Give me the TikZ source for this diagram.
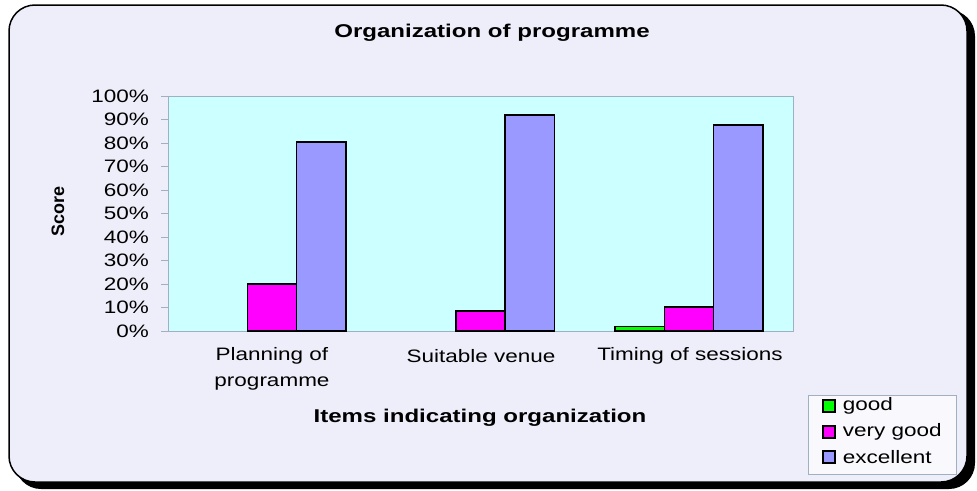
\documentclass[tikz,border=0pt]{standalone}
\usepackage{fontspec}
\setmainfont{Liberation Sans}
\newfontfamily\chartfont[FakeStretch=1.25]{Liberation Sans}
\newfontfamily\headfont[FakeStretch=1.3]{Liberation Sans}
\usepackage{tikz}
\usetikzlibrary{calc}

\definecolor{panel}{RGB}{238,238,250}
\definecolor{plotbg}{RGB}{204,255,255}
\definecolor{plotline}{RGB}{160,176,192}
\definecolor{goodc}{RGB}{0,255,0}
\definecolor{vgoodc}{RGB}{255,0,255}
\definecolor{excc}{RGB}{153,153,255}

\begin{document}
\begin{tikzpicture}[x=1pt,y=-1pt,
    labl/.style={font=\chartfont\fontsize{18}{26}\selectfont, inner sep=0pt},
    head/.style={font=\headfont\bfseries\fontsize{18.5}{22}\selectfont, inner sep=0pt},
    bar/.style={draw=black, line width=1.6pt}]
  \useasboundingbox (0,0) rectangle (977,490);

  %% Frame with its dark shadow
  \fill[black, rounded corners=26] (15,10) rectangle (975,489);
  \draw[fill=panel, line width=1.5pt, rounded corners=26] (9,5) rectangle (967,482);

  %% Plot area and the score axis
  \draw[plotline, fill=plotbg] (168,96) rectangle (793,331);
  \foreach \p in {0,10,...,100}
  {
    \coordinate (T\p) at (168,331-2.35*\p);
    \draw[plotline] (T\p) -- ++(-7,0);
    \node[labl, anchor=east] (Y\p) at ($(T\p)+(-19,0)$) {\p\%};
  }

  %% Bars: group centre / position in group / value / colour
  \foreach \c/\k/\v/\col in {272/1/20/vgoodc, 272/2/80.4/excc,
                             480.5/1/8.5/vgoodc, 480.5/2/91.9/excc,
                             689/0/2/goodc, 689/1/10.2/vgoodc, 689/2/87.7/excc}
  {
    \draw[bar, fill=\col] (\c-74+49.3*\k,331) rectangle ++(49.3,-2.35*\v);
  }

  %% Labels
  \node[head] (TITLE) at (492,33) {Organization of programme};
  \node[font=\bfseries\fontsize{18}{20}\selectfont, inner sep=0pt, rotate=90] (SCORE) at (58,211) {Score};
  \node[labl, align=center] (CAT1) at (272,369) {Planning of\\programme};
  \node[labl] (CAT2) at (481,356) {Suitable venue};
  \node[labl] (CAT3) at (690,356) {Timing of sessions};
  \node[head] (ITEMS) at (480,418) {Items indicating organization};

  %% Legend
  \draw[plotline, fill=white!60!panel] (808,395) rectangle (956,474);
  \foreach \i/\y/\col/\txt in {1/406/goodc/good, 2/432/vgoodc/very good, 3/457/excc/excellent}
  {
    \node[draw=black, line width=1.2pt, fill=\col, minimum size=12pt, inner sep=0pt] (K\i) at (829,\y) {};
    \node[labl, anchor=west] (L\i) at ($(K\i.east)+(7,0)$) {\txt};
  }
\end{tikzpicture}
\end{document}
